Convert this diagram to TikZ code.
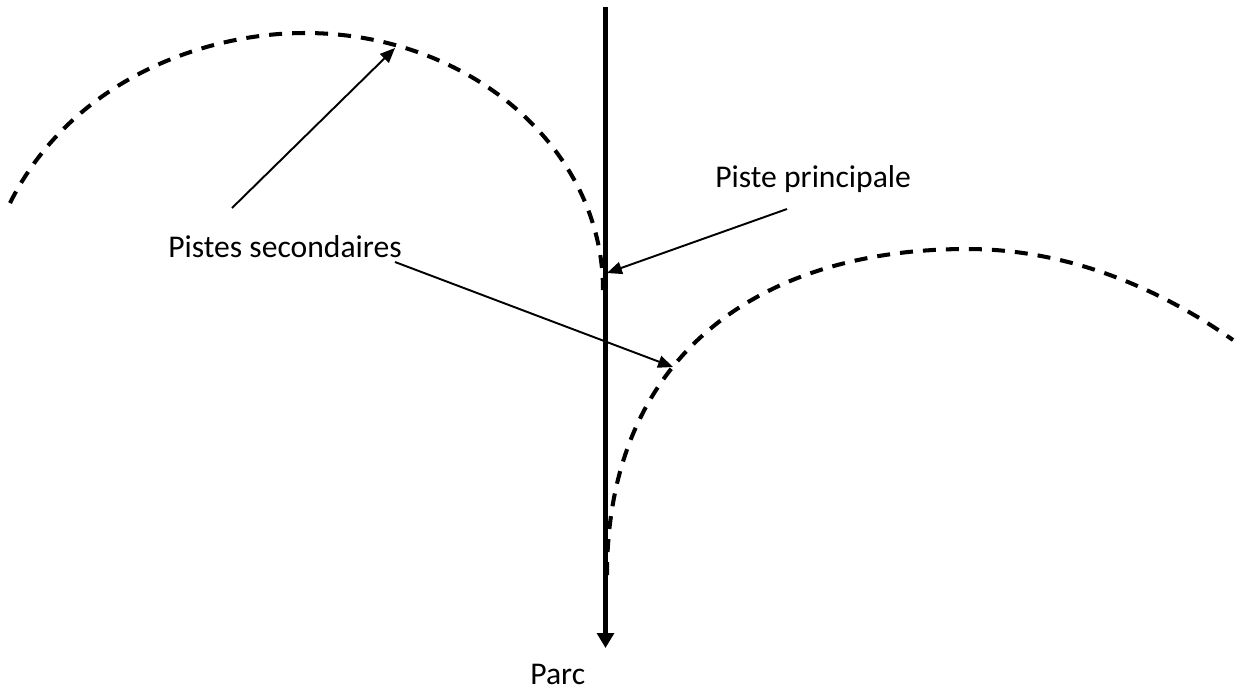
\documentclass[tikz,border=0pt]{standalone}
\usepackage{fontspec}
\setmainfont{Carlito}
\usetikzlibrary{arrows.meta}

\begin{document}
\begin{tikzpicture}[x=0.02cm,y=-0.02cm,
  piste/.style={line width=2.3pt,dash pattern=on 7.4pt off 5.7pt},
  mainline/.style={line width=2.8pt,-{Triangle[length=8.5pt,width=9.5pt]}},
  arr/.style={line width=1.1pt,-{Triangle[length=8.5pt,width=7pt]}},
  lbl/.style={font=\fontsize{18}{21}\selectfont,inner sep=0pt,anchor=base west}]
  \useasboundingbox (0,0) rectangle (1237,691);
  % Piste principale
  \coordinate (top) at (605.5,7);
  \coordinate (bot) at (605.5,648);
  \draw[mainline] (top) -- (bot);
  % Pistes secondaires
  \draw[piste] (10,203) .. controls (70,83) and (200,33) .. (305,33)
    .. controls (469,33) and (603,148) .. (603,290);
  \draw[piste] (607,575) .. controls (607,355) and (760,249) .. (967,249)
    .. controls (1080,249) and (1173,298) .. (1233,340);
  % Labels
  \node[lbl] (sec) at (168,257.5) {Pistes secondaires};
  \node[lbl] (princ) at (715,187) {Piste principale};
  \node[lbl] (parc) at (530,684) {Parc};
  % Arrows
  \coordinate (secA) at (232,208);
  \coordinate (secB) at (395,262);
  \coordinate (princA) at (787,209);
  \coordinate (arcL) at (395,48);
  \coordinate (arcR) at (673,367);
  \coordinate (hit) at (607,273);
  \draw[arr] (secA) -- (arcL);
  \draw[arr] (secB) -- (arcR);
  \draw[arr] (princA) -- (hit);
\end{tikzpicture}
\end{document}
